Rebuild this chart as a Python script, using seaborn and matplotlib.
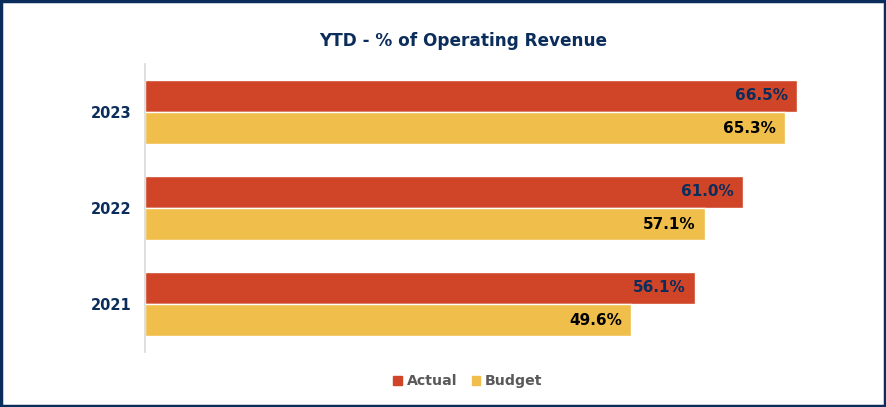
import pandas as pd
import matplotlib.pyplot as plt
import matplotlib.patches as mpatches
import seaborn as sns

years = ['2023', '2022', '2021']
actual = [66.5, 61.0, 56.1]
budget = [65.3, 57.1, 49.6]
series = ['Actual', 'Budget']

navy = '#0b2d5b'
red = '#d04427'
yellow = '#f0be4a'

df = pd.DataFrame({
    'year': years * 2,
    'value': actual + budget,
    'series': ['Actual'] * len(years) + ['Budget'] * len(years),
})

sns.set_style('white')
plt.rcParams['font.family'] = ['DejaVu Sans']

fig = plt.figure(figsize=(8.86, 4.07), dpi=100)
ax = fig.add_axes([145 / 886, 1 - 352 / 407, 735 / 886, 288 / 407])

sns.barplot(data=df, x='value', y='year', hue='series', order=years,
            hue_order=series, palette=[red, yellow], width=0.667,
            orient='h', ax=ax, saturation=1, legend=False)

# labels inside the bar ends
for container, col in zip(ax.containers, [navy, 'black']):
    for p in container:
        w = p.get_width()
        ax.annotate(f'{w:.1f}%', (w, p.get_y() + p.get_height() / 2),
                    xytext=(-6.5, 0), textcoords='offset points',
                    ha='right', va='center', fontsize=11,
                    fontweight='bold', color=col)

ax.set_xlim(0, 75)
ax.set_ylim(2.5, -0.5)
ax.set_xlabel('')
ax.set_ylabel('')
ax.set_xticks([])
ax.tick_params(axis='y', length=0, pad=9.5, labelsize=10.5, labelcolor=navy)
for lbl in ax.get_yticklabels():
    lbl.set_fontweight('bold')
for s in ['top', 'right', 'bottom']:
    ax.spines[s].set_visible(False)
ax.spines['left'].set_color('#d9d9d9')
ax.spines['left'].set_linewidth(1.2)

fig.text(463 / 886, 1 - 41 / 407, 'YTD - % of Operating Revenue',
         ha='center', va='center', fontsize=12.2, fontweight='bold', color=navy)

handles = [mpatches.Patch(color=red, label='Actual'),
           mpatches.Patch(color=yellow, label='Budget')]
leg = fig.legend(handles=handles, loc='center', bbox_to_anchor=(468 / 886, 1 - 381 / 407),
                 ncol=2, frameon=False, handlelength=0.6, handleheight=0.6,
                 handletextpad=0.35, columnspacing=1.0,
                 prop={'weight': 'bold', 'size': 10.2})
for t in leg.get_texts():
    t.set_color('#595959')

# navy frame around the figure
fig.patches.append(mpatches.Rectangle((0.0015, 0.0015), 0.997, 0.997, transform=fig.transFigure,
                                      fill=False, edgecolor=navy, linewidth=2.5))

fig.savefig('out.png', dpi=100)
